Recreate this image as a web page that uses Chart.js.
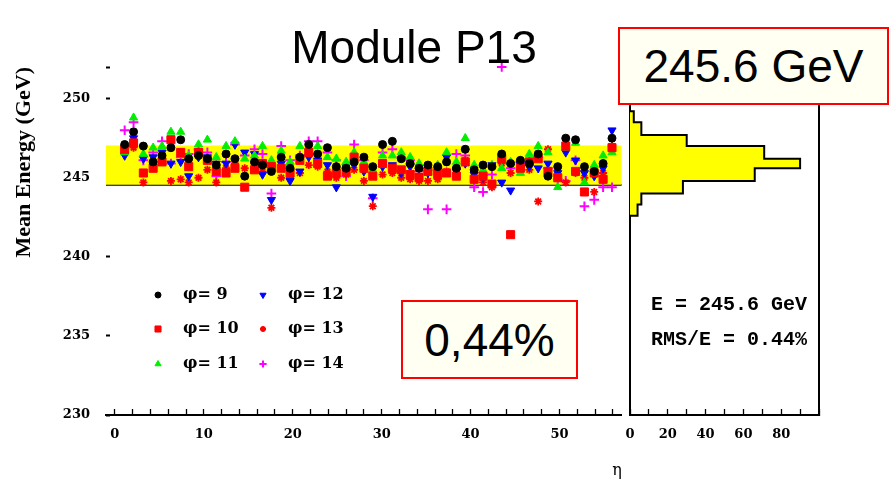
<!DOCTYPE html>
<html>
<head>
<meta charset="utf-8">
<title>Module P13</title>
<script src="https://cdn.jsdelivr.net/npm/chart.js@4.4.1/dist/chart.umd.min.js"></script>
<style>
  body { margin:0; background:#fff; }
  #page { position:relative; width:894px; height:480px; overflow:hidden; }
  canvas { position:absolute; top:0; }
  #chartA { left:0; }
  #chartB { left:600px; }
  .big { position:absolute; font-family:"Liberation Sans", Arial, sans-serif; font-size:46px; color:#000; line-height:1; }
  .redbox { background:#fffff2; border:2px solid #f00; box-sizing:border-box; display:flex; align-items:center; justify-content:center; }
  .stat { position:absolute; left:651px; font:bold 20px "Liberation Mono", monospace; white-space:pre; line-height:20px; color:#000; }
</style>
</head>
<body>
<div id="page">
  <canvas id="chartA" width="631" height="480"></canvas>
  <canvas id="chartB" width="294" height="480"></canvas>
  <div class="big" style="left:0;top:24px;width:828px;text-align:center;">Module P13</div>
  <div class="big redbox" style="left:618px;top:27px;width:271px;height:78px;">245.6 GeV</div>
  <div class="big redbox" style="left:401px;top:300px;width:177px;height:79px;">0,44%</div>
  <div class="stat" style="top:295px;">E = 245.6 GeV</div>
  <div class="stat" style="top:330px;">RMS/E = 0.44%</div>
</div>
<script>
// eta position of each cell column
var eta = [1.1,2.1,3.2,4.3,5.3,6.3,7.4,8.3,9.4,10.4,
           11.4,12.5,13.5,14.6,15.7,16.6,17.6,18.7,19.7,20.8,
           21.8,22.8,23.9,24.9,26.0,26.9,28.0,29.0,30.1,31.2,
           32.2,33.2,34.2,35.2,36.3,37.3,38.4,39.4,40.4,41.4,
           42.4,43.5,44.5,45.6,46.6,47.6,48.7,49.8,50.7,51.8,
           52.8,53.9,54.9,55.9];

// mean energy (GeV) per phi
var phi9  = [247.1,247.9,247.0,246.0,246.4,246.9,247.4,246.2,246.4,246.2,
             245.8,246.5,246.2,245.1,246.0,245.8,245.4,246.3,245.6,246.3,
             247.1,246.5,246.9,245.7,245.6,246.0,246.3,245.7,247.1,247.3,
             246.2,245.9,245.6,245.8,245.7,246.0,245.6,246.8,245.5,245.8,
             245.7,246.5,245.9,246.1,245.9,246.5,245.1,245.7,247.5,247.4,
             245.7,245.4,245.9,247.5];
var phi10 = [246.8,247.2,245.3,245.6,246.0,247.4,246.6,245.7,246.6,246.1,
             245.4,245.3,245.6,244.4,245.5,245.9,245.7,245.6,245.3,246.1,
             246.6,245.9,245.1,245.3,245.4,246.3,245.6,245.1,245.9,245.6,
             245.5,245.2,245.0,245.4,245.2,245.3,245.1,246.0,244.9,245.1,
             244.6,246.2,241.4,245.6,246.0,246.2,245.4,245.0,247.0,245.4,
             244.1,245.3,244.9,246.9];
var phi11 = [246.6,248.8,246.5,246.9,247.0,247.9,247.9,246.4,247.1,247.4,
             246.3,247.0,247.3,246.2,246.4,247.0,246.1,246.7,246.0,247.0,
             246.9,247.0,246.3,246.2,246.0,246.6,246.0,245.5,246.4,246.4,
             246.6,246.3,245.9,245.6,245.8,246.6,246.0,247.5,245.8,245.5,
             245.8,245.6,246.0,245.3,246.5,247.0,246.6,244.4,246.9,247.2,
             244.7,245.8,246.4,246.6];
var phi12 = [246.4,247.5,246.2,246.3,246.6,245.9,246.0,245.1,246.3,246.3,
             245.9,245.9,247.1,246.6,246.5,245.2,243.6,245.9,244.8,245.4,
             246.3,246.1,245.8,244.4,245.7,245.8,245.4,243.8,245.7,245.8,
             245.3,245.7,245.1,245.3,245.5,246.3,245.4,245.9,245.2,245.0,
             245.8,244.7,244.2,245.8,245.7,245.6,245.9,245.3,246.6,246.1,
             245.3,245.1,245.6,248.0];
var phi13 = [246.6,246.9,244.7,245.9,246.3,244.8,244.9,244.7,245.0,245.5,
             244.7,245.6,245.9,245.6,245.9,245.4,243.1,245.0,245.0,245.3,
             245.8,245.7,245.4,245.0,245.2,245.5,244.8,243.2,245.2,245.3,
             245.0,244.9,244.8,244.8,244.9,245.4,245.6,246.1,245.4,244.7,
             244.4,245.9,245.3,245.5,245.5,243.5,246.8,245.2,244.7,245.3,
             245.0,244.1,245.3,247.0];
var phi14 = [248.0,248.5,246.1,246.6,247.3,245.9,246.3,246.5,246.8,246.6,
             245.1,246.0,247.1,246.4,246.8,246.5,244.0,247.0,246.1,246.4,
             247.3,247.3,246.6,246.1,245.1,247.1,246.1,243.7,246.6,246.8,
             246.3,246.1,245.4,243.0,245.5,243.0,246.5,246.4,244.4,244.1,
             245.2,252.0,245.6,246.0,246.0,246.3,245.6,244.9,244.8,246.1,
             243.2,243.6,244.4,244.4];

// +-RMS band and eta range
var band = [244.55, 247.03];
var etaRange = [-1, 57];

// projection histogram (bin edges in GeV, entries per bin)
var histEdges  = [242.6, 243.3, 244.0, 244.8, 245.6, 246.2, 247.0, 247.7, 248.5, 249.2];
var histCounts = [4, 6, 28, 66, 90, 71, 30, 6, 2];

// ticks
var etaTicks    = [0,2,4,6,8,10,12,14,16,18,20,22,24,26,28,30,32,34,36,38,40,42,44,46,48,50,52,54,56];
var energyTicks = [230, 235, 240, 245, 250, 252];
var countTicks  = [0,10,20,30,40,50,60,70,80,90,100];

var series = [
  {label:'φ= 9',  data:phi9,  style:'circle',   color:'#000000', r:4,   bw:1,   rot:0},
  {label:'φ= 10', data:phi10, style:'rect',     color:'#ff0000', r:5.7, bw:1,   rot:0},
  {label:'φ= 11', data:phi11, style:'triangle', color:'#00ee00', r:4.7, bw:1,   rot:0},
  {label:'φ= 12', data:phi12, style:'triangle', color:'#0000ff', r:4.7, bw:1,   rot:180},
  {label:'φ= 13', data:phi13, style:'star',     color:'#ff0000', r:4,   bw:1.8, rot:0},
  {label:'φ= 14', data:phi14, style:'cross',    color:'#ff00ff', r:4.8, bw:2,   rot:0}
];

Chart.defaults.font.family = '"DejaVu Serif", serif';
Chart.defaults.color = '#000';

var tickFont = {family:'"DejaVu Serif", serif', weight:'bold', size:13};

function pts(vals){
  return eta.map(function(x, i){ return {x:x, y:vals[i]}; });
}

function histOutline(){
  var p = [{x:0, y:histEdges[0]}];
  for (var i = 0; i < histCounts.length; i++){
    p.push({x:histCounts[i], y:histEdges[i]});
    p.push({x:histCounts[i], y:histEdges[i+1]});
  }
  p.push({x:0, y:histEdges[histEdges.length-1]});
  return p;
}

// legend in two columns inside the plot
var phiLegend = {
  id:'phiLegend',
  afterDatasetsDraw: function(chart){
    var ctx = chart.ctx;
    var rows = [295, 329, 364];
    series.forEach(function(s, i){
      var x = 158 + Math.floor(i/3)*105;
      var y = rows[i%3];
      ctx.save();
      ctx.fillStyle = s.color;
      ctx.strokeStyle = s.color;
      ctx.lineWidth = s.bw;
      Chart.helpers.drawPoint(ctx, {pointStyle:s.style, radius:s.r*0.75, rotation:s.rot, borderWidth:s.bw}, x, y);
      ctx.fillStyle = '#000';
      ctx.font = 'bold 16px "DejaVu Serif"';
      ctx.textBaseline = 'middle';
      ctx.fillText(s.label, x + 25, y);
      ctx.restore();
    });
  }
};

var dsA = series.map(function(s){
  return {
    label:s.label, data:pts(s.data), order:1, clip:false,
    pointStyle:s.style, pointRadius:s.r, pointRotation:s.rot,
    backgroundColor:s.color, borderColor:s.color, pointBorderWidth:s.bw
  };
});
dsA.push({
  label:'band top', data:[{x:etaRange[0], y:band[1]}, {x:etaRange[1], y:band[1]}],
  showLine:true, pointRadius:0, borderWidth:0, borderColor:'rgba(0,0,0,0)',
  backgroundColor:'#ffff00', fill:'+1', order:10
});
dsA.push({
  label:'band bottom', data:[{x:etaRange[0], y:band[0]}, {x:etaRange[1], y:band[0]}],
  showLine:true, pointRadius:0, borderWidth:2, borderColor:'#000', fill:false, order:10
});

new Chart(document.getElementById('chartA'), {
  type:'scatter',
  data:{datasets:dsA},
  options:{
    responsive:false, animation:false, devicePixelRatio:1, events:[],
    layout:{padding:{top:67, right:1, left:0, bottom:0}},
    plugins:{legend:{display:false}, tooltip:{enabled:false}},
    scales:{
      x:{
        type:'linear', min:etaRange[0], max:etaRange[1],
        afterBuildTicks:function(s){ s.ticks = etaTicks.map(function(v){ return {value:v}; }); },
        afterFit:function(s){ s.height = 65; },
        grid:{drawOnChartArea:false, tickLength:-6, color:'#000', tickWidth:1.3},
        border:{display:true, color:'#000', width:2},
        ticks:{padding:18, autoSkip:false, maxRotation:0, font:tickFont, color:'#000',
               callback:function(v){ return v % 10 === 0 ? v : ''; }},
        title:{display:true, text:'η', align:'end', padding:{top:0, bottom:0},
               font:{family:'"DejaVu Serif", serif', size:16}}
      },
      y:{
        type:'linear', min:230, max:252,
        afterBuildTicks:function(s){ s.ticks = energyTicks.map(function(v){ return {value:v}; }); },
        afterFit:function(s){ s.width = 106; },
        grid:{drawOnChartArea:false, tickLength:-4, color:'#000', tickWidth:2},
        border:{display:false},
        ticks:{padding:20, font:tickFont, color:'#000',
               callback:function(v){ return v % 5 === 0 ? v : ''; }},
        title:{display:true, text:'Mean Energy (GeV)', align:'end', padding:{top:11, bottom:0},
               font:{family:'"Liberation Serif", serif', weight:'bold', size:22}}
      }
    }
  },
  plugins:[phiLegend]
});

new Chart(document.getElementById('chartB'), {
  type:'scatter',
  data:{datasets:[{
    label:'projection', data:histOutline(), showLine:true, pointRadius:0,
    borderColor:'#000', borderWidth:2, backgroundColor:'#ffff00', fill:'shape'
  }]},
  options:{
    responsive:false, animation:false, devicePixelRatio:1, events:[],
    layout:{padding:{top:67, right:0, left:0, bottom:0}},
    plugins:{legend:{display:false}, tooltip:{enabled:false}},
    scales:{
      x:{
        type:'linear', min:0, max:100,
        afterBuildTicks:function(s){ s.ticks = countTicks.map(function(v){ return {value:v}; }); },
        afterFit:function(s){ s.height = 65; },
        grid:{drawOnChartArea:false, tickLength:-6, color:'#000', tickWidth:1.3},
        border:{display:true, color:'#000', width:2},
        ticks:{padding:18, autoSkip:false, maxRotation:0, font:tickFont, color:'#000',
               callback:function(v){ return (v % 20 === 0 && v < 100) ? v : ''; }}
      },
      y:{
        type:'linear', min:230, max:252,
        afterFit:function(s){ s.width = 30; },
        grid:{display:false}, ticks:{display:false},
        border:{display:true, color:'#000', width:2}
      },
      yR:{
        type:'linear', position:'right', min:230, max:252,
        afterFit:function(s){ s.width = 75; },
        grid:{display:false}, ticks:{display:false},
        border:{display:true, color:'#000', width:2}
      }
    }
  }
});
</script>
</body>
</html>
